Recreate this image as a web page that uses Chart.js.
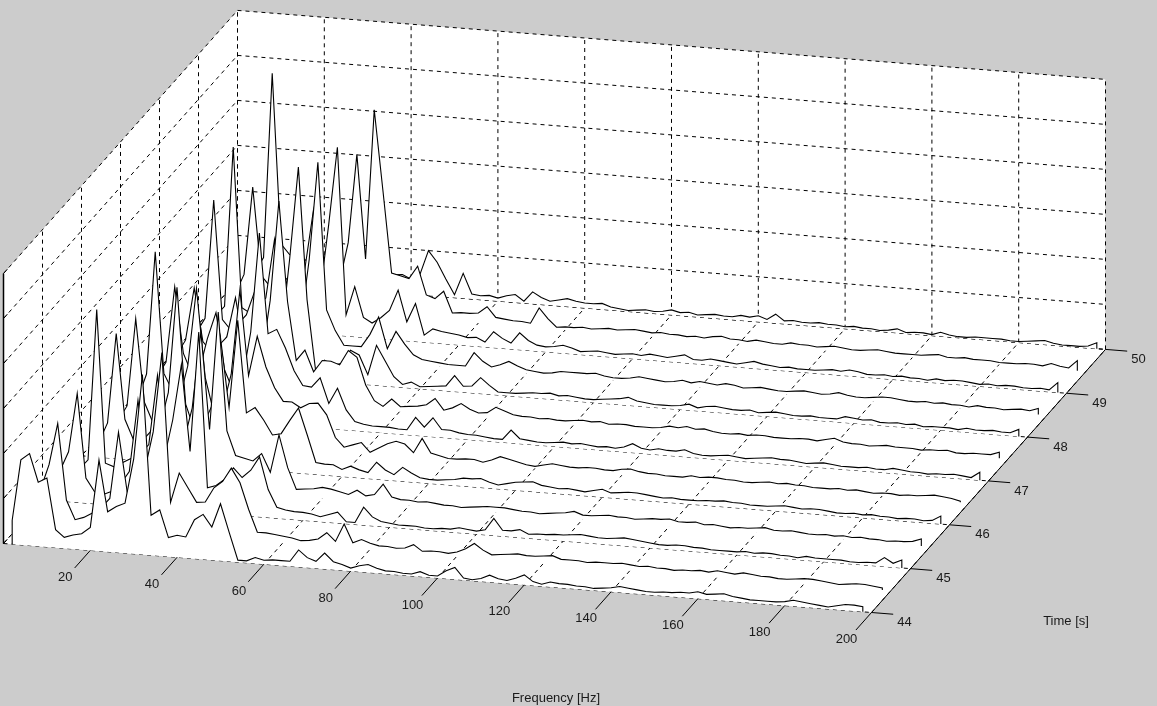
<!DOCTYPE html>
<html>
<head>
<meta charset="utf-8">
<title>Waterfall</title>
<script src="https://cdn.jsdelivr.net/npm/chart.js@4"></script>
<style>
  html, body { margin: 0; padding: 0; background: #cccccc; overflow: hidden; }
  canvas { display: block; }
</style>
</head>
<body>
<canvas id="waterfall" width="1157" height="706"></canvas>
<script>
// Data
const freqTicks = [0, 20, 40, 60, 80, 100, 120, 140, 160, 180, 200];
const timeTicks = [44, 45, 46, 47, 48, 49, 50];
const zTicks = [0, 45, 90, 135, 180, 225, 270];
const times = [44, 44.5, 45, 45.5, 46, 46.5, 47, 47.5, 48, 48.5, 49, 49.5, 50];
const freqs = [2, 4, 6, 8, 10, 12, 14, 16, 18, 20,
  22, 24, 26, 28, 30, 32, 34, 36, 38, 40,
  42, 44, 46, 48, 50, 52, 54, 56, 58, 60,
  62, 64, 66, 68, 70, 72, 74, 76, 78, 80,
  82, 84, 86, 88, 90, 92, 94, 96, 98, 100,
  102, 104, 106, 108, 110, 112, 114, 116, 118, 120,
  122, 124, 126, 128, 130, 132, 134, 136, 138, 140,
  142, 144, 146, 148, 150, 152, 154, 156, 158, 160,
  162, 164, 166, 168, 170, 172, 174, 176, 178, 180,
  182, 184, 186, 188, 190, 192, 194, 196, 198];

const amp44 = [24, 85, 92, 64, 69, 18, 11, 14, 16, 23,
  91, 40, 46, 50, 95, 180, 40, 46, 19, 22,
  21, 39, 45, 33, 57, 29, 2, 2, 6, 4,
  5, 5, 5, 17, 10, 7, 16, 8, 6, 3,
  6, 8, 5, 3, 3, 2, 2, 5, 2, 2,
  8, 12, 2, 1, 3, 7, 4, 3, 6, 10,
  4, 2, 5, 4, 4, 3, 3, 2, 3, 4,
  6, 5, 4, 3, 3, 4, 4, 5, 5, 7,
  5, 6, 7, 5, 4, 3, 3, 3, 3, 4,
  6, 5, 4, 3, 2, 4, 6, 6, 5];
const amp44_5 = [10, 33, 59, 101, 25, 6, 9, 14, 20, 30,
  97, 38, 45, 60, 100, 180, 31, 61, 47, 33,
  34, 49, 56, 70, 56, 30, 8, 8, 7, 6,
  5, 3, 4, 6, 13, 5, 23, 5, 9, 6,
  4, 4, 3, 4, 8, 2, 3, 3, 2, 4,
  8, 14, 8, 4, 5, 6, 7, 6, 6, 7,
  8, 5, 5, 5, 4, 5, 5, 5, 6, 5,
  4, 5, 4, 4, 3, 4, 4, 5, 4, 6,
  5, 4, 6, 5, 4, 4, 3, 3, 4, 5,
  5, 4, 3, 2, 3, 4, 4, 3, 2];
const amp45 = [5, 30, 50, 109, 25, 12, 10, 14, 22, 35,
  107, 40, 40, 50, 90, 146, 60, 180, 25, 28,
  35, 47, 38, 46, 60, 28, 11, 9, 8, 8,
  7, 5, 8, 11, 2, 2, 18, 9, 5, 4,
  3, 3, 3, 2, 2, 3, 3, 5, 4, 3,
  5, 17, 6, 6, 8, 4, 5, 5, 6, 6,
  7, 8, 7, 6, 6, 7, 8, 7, 6, 5,
  4, 4, 5, 5, 4, 4, 3, 3, 3, 3,
  4, 3, 4, 4, 3, 3, 2, 4, 3, 3,
  3, 3, 2, 2, 3, 3, 9, 4, 8];
const amp45_5 = [5, 10, 20, 171, 18, 15, 20, 25, 30, 40,
  110, 35, 35, 45, 80, 157, 60, 178, 60, 36,
  34, 32, 40, 22, 60, 28, 7, 8, 9, 11,
  10, 8, 6, 11, 6, 8, 19, 7, 5, 5,
  4, 5, 4, 3, 3, 2, 3, 4, 5, 5,
  5, 4, 3, 3, 2, 3, 4, 5, 7, 4,
  4, 5, 6, 5, 5, 4, 5, 6, 6, 7,
  5, 5, 6, 4, 5, 4, 3, 4, 4, 5,
  6, 4, 4, 5, 4, 3, 3, 4, 3, 4,
  3, 4, 3, 3, 2, 3, 3, 4, 7];
const amp46 = [5, 15, 35, 125, 40, 20, 20, 30, 35, 70,
  176, 60, 35, 40, 60, 130, 60, 148, 56, 62,
  50, 36, 38, 52, 65, 39, 12, 11, 11, 7,
  11, 8, 6, 17, 10, 6, 14, 9, 5, 4,
  4, 5, 6, 8, 8, 9, 6, 4, 6, 8,
  9, 10, 7, 6, 5, 6, 5, 4, 6, 8,
  5, 6, 7, 7, 6, 5, 4, 5, 4, 4,
  4, 5, 5, 6, 5, 5, 4, 4, 4, 5,
  6, 5, 4, 5, 5, 4, 3, 3, 4, 3,
  4, 3, 3, 2, 3, 3, 2, 3, 8];
const amp46_5 = [5, 15, 30, 118, 35, 15, 20, 30, 40, 75,
  153, 65, 30, 35, 70, 155, 70, 110, 80, 60,
  47, 47, 42, 47, 48, 37, 15, 6, 9, 12,
  3, 8, 13, 16, 14, 6, 21, 7, 5, 3,
  3, 4, 4, 2, 5, 9, 7, 5, 3, 2,
  4, 6, 5, 4, 4, 5, 5, 4, 4, 6,
  7, 5, 4, 4, 3, 3, 3, 5, 4, 5,
  5, 4, 4, 3, 3, 4, 5, 4, 5, 4,
  4, 3, 3, 3, 4, 3, 4, 3, 2, 3,
  3, 2, 3, 3, 4, 5, 4, 3, 1];
const amp47 = [5, 15, 40, 163, 42, 25, 25, 35, 45, 80,
  107, 50, 30, 40, 90, 190, 90, 95, 77, 55,
  41, 40, 50, 25, 41, 20, 9, 7, 6, 6,
  6, 5, 5, 18, 9, 19, 8, 8, 6, 5,
  5, 4, 3, 3, 13, 5, 4, 3, 3, 4,
  5, 4, 5, 4, 3, 4, 3, 5, 9, 5,
  4, 6, 5, 5, 7, 4, 3, 3, 4, 5,
  4, 3, 4, 5, 6, 5, 5, 4, 3, 4,
  5, 4, 3, 3, 3, 4, 3, 3, 5, 4,
  3, 3, 2, 3, 3, 4, 3, 2, 8];
const amp47_5 = [5, 15, 30, 106, 40, 20, 25, 35, 50, 60,
  100, 50, 30, 40, 100, 200, 100, 42, 53, 32,
  44, 44, 41, 56, 50, 23, 8, 3, 11, 4,
  5, 6, 8, 15, 4, 7, 12, 7, 4, 5,
  11, 8, 5, 4, 4, 3, 4, 3, 3, 4,
  5, 4, 5, 3, 4, 4, 3, 3, 3, 4,
  6, 5, 7, 5, 6, 4, 3, 3, 4, 3,
  4, 4, 3, 3, 3, 4, 4, 3, 5, 7,
  4, 3, 3, 2, 3, 4, 3, 3, 3, 2,
  3, 3, 4, 2, 2, 3, 3, 3, 6];
const amp48 = [5, 15, 30, 83, 30, 20, 25, 40, 50, 60,
  85, 40, 30, 40, 120, 212, 80, 9, 21, 17,
  19, 33, 29, 10, 40, 25, 10, 3, 6, 2,
  3, 4, 5, 16, 6, 7, 16, 9, 3, 3,
  3, 4, 5, 5, 6, 4, 5, 4, 3, 3,
  4, 5, 6, 8, 5, 4, 3, 3, 3, 4,
  6, 3, 5, 6, 5, 4, 4, 5, 3, 4,
  5, 4, 3, 3, 4, 3, 3, 3, 6, 5,
  4, 5, 3, 3, 4, 3, 4, 2, 3, 3,
  3, 2, 4, 3, 3, 4, 3, 3, 7];
const amp48_5 = [5, 15, 30, 149, 30, 20, 25, 35, 45, 55,
  114, 40, 25, 30, 97, 195, 48, 28, 14, 14,
  14, 27, 45, 14, 32, 20, 10, 6, 5, 4,
  3, 3, 3, 17, 9, 4, 7, 11, 7, 4,
  3, 2, 3, 5, 5, 5, 5, 6, 4, 3,
  3, 4, 6, 5, 4, 3, 4, 6, 4, 6,
  5, 4, 6, 5, 3, 4, 5, 4, 3, 3,
  4, 5, 4, 3, 4, 6, 4, 3, 3, 4,
  5, 5, 4, 3, 3, 4, 3, 4, 3, 3,
  2, 4, 3, 3, 2, 3, 4, 3, 6];
const amp49 = [5, 10, 20, 180, 20, 15, 20, 30, 35, 45,
  72, 35, 25, 40, 110, 188, 21, 50, 20, 15,
  21, 29, 50, 19, 38, 7, 14, 12, 11, 10,
  8, 9, 5, 16, 10, 6, 17, 10, 6, 5,
  6, 8, 6, 3, 4, 5, 4, 3, 4, 5,
  4, 6, 5, 4, 6, 8, 4, 4, 6, 5,
  4, 3, 5, 7, 5, 4, 3, 4, 3, 3,
  3, 4, 5, 4, 6, 5, 3, 3, 4, 3,
  4, 3, 3, 2, 4, 3, 4, 4, 3, 2,
  3, 2, 3, 3, 2, 2, 3, 2, 10];
const amp49_5 = [5, 10, 30, 118, 30, 20, 20, 30, 35, 40,
  100, 40, 25, 30, 70, 159, 55, 205, 125, 43,
  41, 39, 52, 24, 21, 29, 8, 9, 9, 10,
  17, 7, 6, 5, 5, 4, 20, 10, 2, 3,
  3, 4, 3, 4, 5, 4, 5, 6, 5, 4,
  5, 4, 4, 3, 4, 3, 5, 6, 4, 4,
  3, 5, 4, 3, 3, 5, 4, 4, 3, 4,
  5, 4, 3, 3, 4, 5, 4, 3, 3, 3,
  3, 4, 5, 3, 3, 4, 3, 3, 3, 2,
  2, 2, 3, 3, 2, 5, 3, 2, 10];
const amp50 = [3, 10, 25, 210, 40, 30, 30, 25, 25, 25,
  25, 25, 20, 20, 18, 18, 18, 18, 19, 15,
  20, 45, 34, 18, 3, 25, 5, 4, 5, 3,
  6, 8, 2, 12, 7, 4, 6, 8, 6, 5,
  5, 6, 3, 2, 1, 2, 3, 2, 3, 5,
  3, 4, 2, 3, 4, 3, 3, 5, 4, 6,
  3, 9, 3, 4, 3, 3, 4, 3, 3, 2,
  3, 2, 2, 1, 2, 4, 1, 2, 2, 1,
  4, 2, 1, 1, 2, 2, 2, 2, 1, 1,
  2, 3, 4, 2, 1, 1, 1, 2, 6];

const rows = [amp44, amp44_5, amp45, amp45_5, amp46, amp46_5, amp47,
  amp47_5, amp48, amp48_5, amp49, amp49_5, amp50];

// 3D box projected on the page (view of the original plot)
function project(f, t, z) {
  return {
    x: 3.5 + 4.34 * f + 39 * (t - 44),
    y: 543.5 + 0.345 * f - 43.85 * (t - 44) - z
  };
}

const fMin = 0, fMax = 200, tMin = 44, tMax = 50, zMax = 270;
const datasets = [];

function addLine(points, opts) {
  datasets.push(Object.assign({
    data: points,
    borderColor: '#000000',
    borderWidth: 1,
    pointRadius: 0,
    fill: false,
    tension: 0
  }, opts));
}

const dashed = { borderDash: [4, 4], borderWidth: 1 };

// white box behind everything
addLine([project(fMin, tMin, zMax), project(fMin, tMax, zMax), project(fMax, tMax, zMax)],
  { borderWidth: 0, borderColor: 'transparent', backgroundColor: '#ffffff', fill: '+1' });
addLine([project(fMin, tMin, 0), project(fMax, tMin, 0), project(fMax, tMax, 0)],
  { borderWidth: 0, borderColor: 'transparent' });

// grid on the floor and the two walls
freqTicks.forEach(f => {
  addLine([project(f, tMin, 0), project(f, tMax, 0)], dashed);
  addLine([project(f, tMax, 0), project(f, tMax, zMax)], dashed);
});
timeTicks.forEach(t => {
  addLine([project(fMin, t, 0), project(fMax, t, 0)], dashed);
  addLine([project(fMin, t, 0), project(fMin, t, zMax)], dashed);
});
zTicks.forEach(z => {
  addLine([project(fMin, tMin, z), project(fMin, tMax, z)], dashed);
  addLine([project(fMin, tMax, z), project(fMax, tMax, z)], dashed);
});

// one white curtain per time slice, back to front
for (let i = times.length - 1; i >= 0; i--) {
  const t = times[i];
  const first = freqs[0], last = freqs[freqs.length - 1];
  const pts = freqs.map((f, j) => project(f, t, rows[i][j]));
  pts.unshift(project(first, t, 0));
  pts.push(project(last, t, 0));
  addLine(pts, { backgroundColor: '#ffffff', fill: '+1', borderWidth: 1.1 });
  addLine([project(first, t, 0), project(last, t, 0)],
    { borderWidth: 0, borderColor: 'transparent' });
}

// axes and ticks, in front of the curtains
addLine([project(fMax, tMin, 0), project(fMax, tMax, 0)], {});
addLine([project(fMin, tMin, 0), project(fMin, tMin, zMax)], { borderWidth: 1.5 });
freqTicks.slice(1).forEach(f => {
  addLine([project(f, tMin - 0.4, 0), project(f, tMin, 0)], {});
});
timeTicks.forEach(t => {
  addLine([project(fMax, t, 0), project(fMax + 5, t, 0)], {});
});
zTicks.forEach(z => {
  addLine([project(fMin, tMin, z), project(fMin, tMin + 0.1, z)], {});
});

// later datasets go on top
datasets.forEach((d, i) => { d.order = -i; });

// tick labels and axis titles
const axisText = {
  id: 'axisText',
  afterDraw(chart) {
    const { ctx, scales } = chart;
    const put = (text, x, y) => ctx.fillText(text, scales.x.getPixelForValue(x), scales.y.getPixelForValue(y));
    ctx.save();
    ctx.font = '13px "Liberation Sans", Arial, sans-serif';
    ctx.fillStyle = '#1a1a1a';
    ctx.textAlign = 'center';
    ctx.textBaseline = 'middle';
    freqTicks.slice(1).forEach(f => {
      const p = project(f, tMin, 0);
      put(String(f), p.x - 25, p.y + 27);
    });
    timeTicks.forEach(t => {
      const p = project(fMax, t, 0);
      put(String(t), p.x + 33, p.y + 10);
    });
    put('Time [s]', 1066, 621);
    put('Frequency [Hz]', 556, 698);
    ctx.restore();
  }
};

new Chart(document.getElementById('waterfall'), {
  type: 'line',
  data: { datasets },
  options: {
    responsive: false,
    animation: false,
    events: [],
    layout: { padding: 0 },
    scales: {
      x: { type: 'linear', min: 0, max: 1157, display: false },
      y: { type: 'linear', min: 0, max: 706, reverse: true, display: false }
    },
    plugins: {
      legend: { display: false },
      tooltip: { enabled: false },
      filler: { drawTime: 'beforeDatasetDraw', propagate: false }
    }
  },
  plugins: [axisText]
});
</script>
</body>
</html>
